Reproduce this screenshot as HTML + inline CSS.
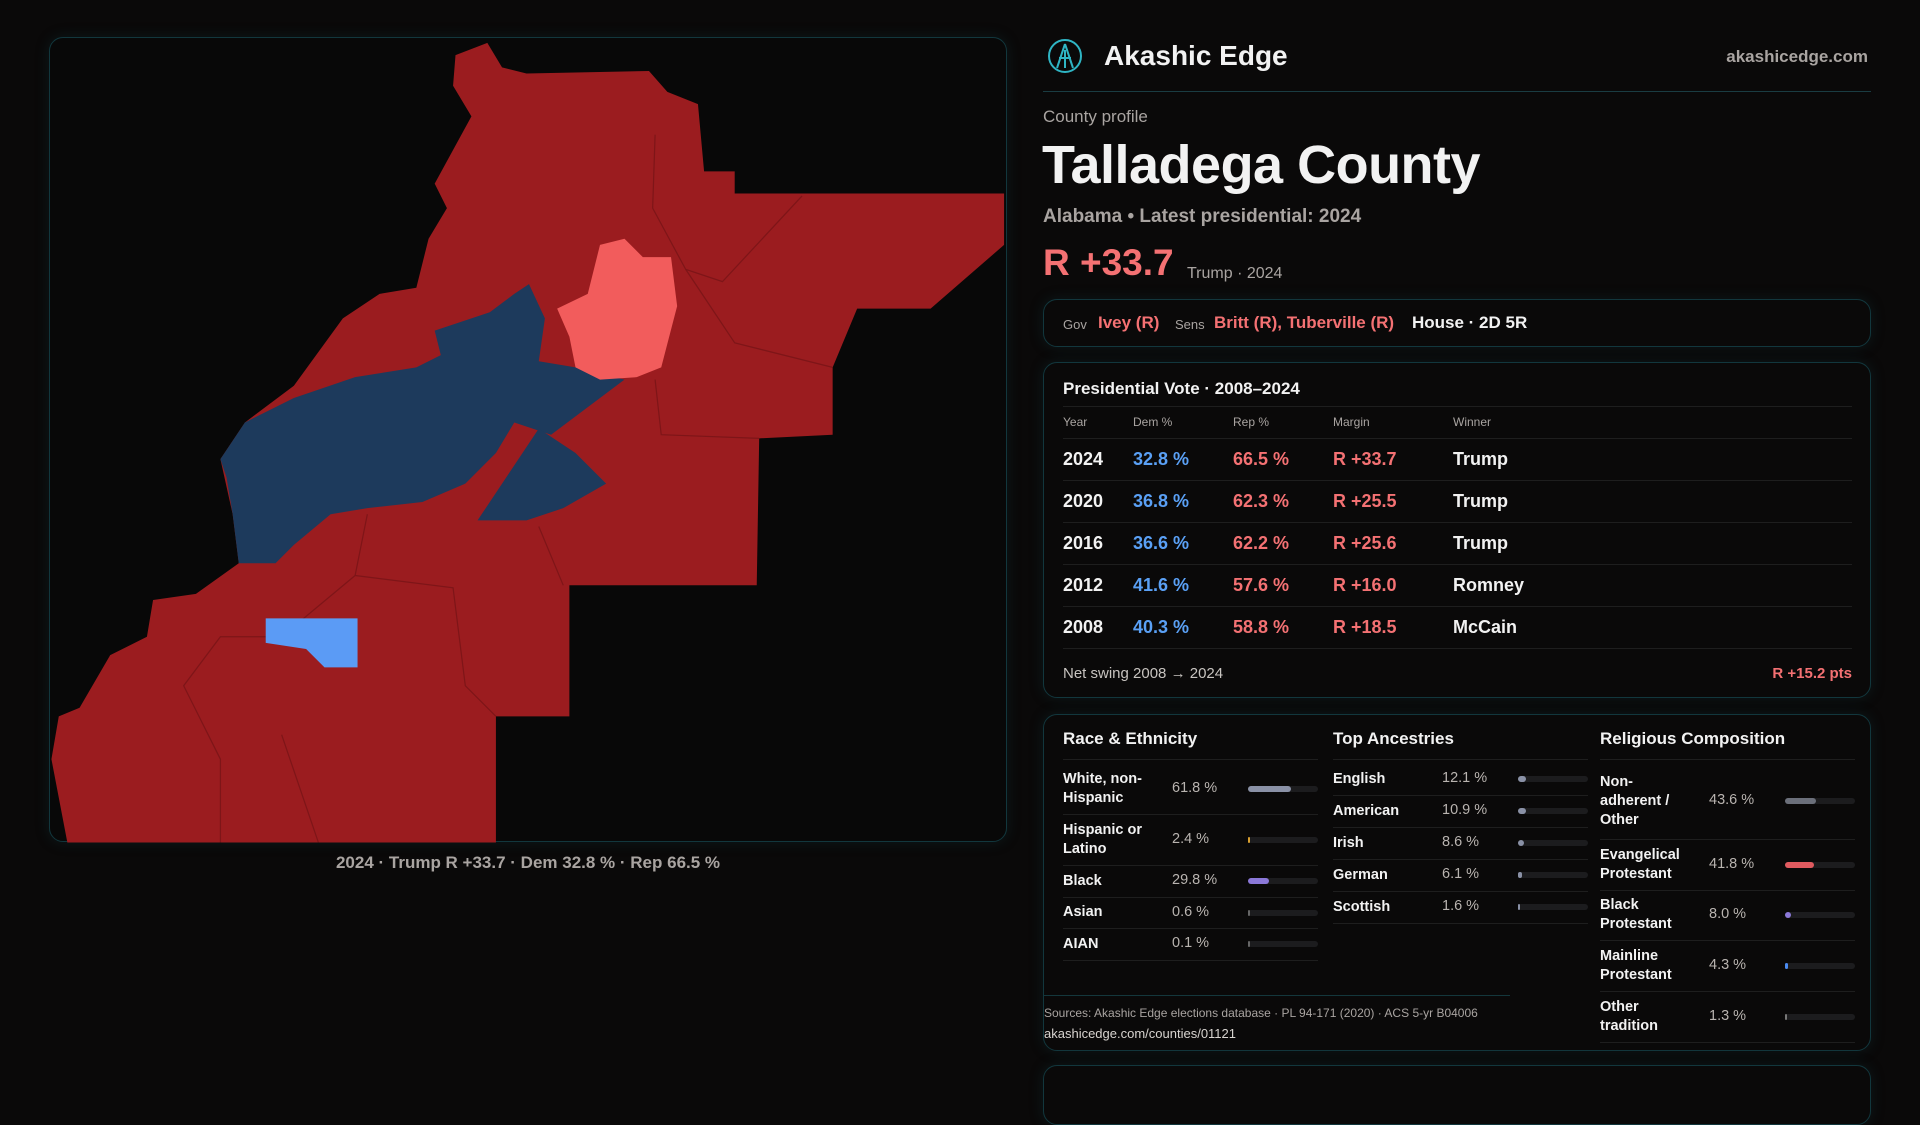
<!DOCTYPE html>
<html><head><meta charset="utf-8">
<style>
*{box-sizing:border-box;margin:0;padding:0}
body{width:1920px;height:1080px;background:#0a0909;font-family:"Liberation Sans",sans-serif;color:#f2f2f2;position:relative;overflow:hidden}
.abs{position:absolute}
.panel{position:absolute;border:1px solid #12373d;border-radius:14px;background:#0a0909;box-shadow:0 0 14px rgba(20,70,80,.25)}
.muted{color:#a9a4a1}
.red{color:#f47173}.blue{color:#5aa0f5}
.tr{position:absolute;left:0;right:0;border-bottom:1px solid #1e1e1e}
.bar{position:absolute;height:6px;border-radius:3px;background:#1c1c1e;width:70px}
.bar i{display:block;height:6px;border-radius:3px}
.lbl{position:absolute;font-size:14.5px;font-weight:bold;line-height:19px;color:#f2f2f2}
.val{position:absolute;font-size:14.5px;color:#b9b4b0}
</style></head><body>
<div class="panel" style="left:49px;top:37px;width:958px;height:805px;overflow:hidden;background:#080808"></div>
<svg class="abs" style="left:0;top:0" width="1920" height="1080" viewBox="0 0 1568 882">
<polygon fill="#9b1c1f" points="372,45 398,35 410,55 430,60 530,58 545,75 570,85 575,140 600,140 600,158 820,158 820,200 760,252 700,252 680,300 680,355 620,358 618,478 465,478 465,585 405,585 405,688 55,688 42,620 48,585 65,578 90,535 120,520 125,490 160,485 195,460 190,420 180,375 200,345 240,315 280,260 310,240 340,235 350,195 365,170 355,150 385,95 370,70"/>
<g stroke="#7e1518" stroke-width="1" fill="none">
<polyline points="535,110 533,170 560,220 590,230 655,160"/><polyline points="560,220 600,280 680,300"/><polyline points="535,310 540,355 620,358"/><polyline points="300,420 290,470 230,520 180,520 150,560 180,620 180,688"/><polyline points="290,470 370,480 380,560 405,585"/><polyline points="230,600 260,688"/><polyline points="440,430 460,478"/>
</g>
<polygon fill="#1d3a5c" points="180,375 200,345 240,325 290,308 340,300 360,290 355,270 400,255 420,240 432,232 445,260 440,295 470,300 510,310 470,340 450,355 420,345 405,370 380,395 345,410 300,415 270,420 240,445 225,460 195,460 190,420 185,390"/>
<polygon fill="#1d3a5c" points="390,425 440,350 470,370 495,395 460,415 430,425"/>
<polygon fill="#f25c5c" points="455,252 480,240 490,200 510,195 525,210 548,210 553,250 540,300 520,308 490,310 470,300 465,275"/>
<polygon fill="#5b9bf5" points="217,505 292,505 292,545 265,545 250,530 217,525"/>
</svg>
<div class="abs muted" style="left:49px;width:958px;top:853px;text-align:center;font-size:17px;font-weight:bold">2024 · Trump R +33.7 · Dem 32.8 % · Rep 66.5 %</div>

<svg class="abs" style="left:1047px;top:38px" width="36" height="36"><circle cx="18" cy="18" r="16" fill="none" stroke="#2fb5c4" stroke-width="2"/><path d="M18 6 L10 30 M18 6 L26 30 M12 20 L24 20 M18 12 L18 30" stroke="#2fb5c4" stroke-width="2" fill="none"/></svg>
<div class="abs" style="left:1104px;top:40px;font-size:28px;font-weight:bold">Akashic Edge</div>
<div class="abs muted" style="right:52px;top:47px;font-size:17px;font-weight:bold">akashicedge.com</div>
<div class="abs" style="left:1043px;top:91px;width:828px;border-top:1px solid #1a3c42"></div>
<div class="abs muted" style="left:1043px;top:107px;font-size:17px">County profile</div>
<div class="abs" style="left:1042px;top:134px;font-size:54px;font-weight:bold;letter-spacing:-0.5px">Talladega County</div>
<div class="abs muted" style="left:1043px;top:206px;font-size:19px;font-weight:bold">Alabama • Latest presidential: 2024</div>
<div class="abs red" style="left:1043px;top:242px;font-size:37px;font-weight:bold">R +33.7</div>
<div class="abs muted" style="left:1187px;top:265px;font-size:16px">Trump · 2024</div>

<div class="panel" style="left:1043px;top:299px;width:828px;height:48px">
<span class="abs muted" style="left:19px;top:17px;font-size:13px">Gov</span>
<span class="abs red" style="left:54px;top:13px;font-size:17px;font-weight:bold">Ivey (R)</span>
<span class="abs muted" style="left:131px;top:17px;font-size:13px">Sens</span>
<span class="abs red" style="left:170px;top:13px;font-size:17px;font-weight:bold">Britt (R), Tuberville (R)</span>
<span class="abs" style="left:368px;top:13px;font-size:17px;font-weight:bold">House · 2D 5R</span>
</div>

<div class="panel" id="pres" style="left:1043px;top:362px;width:828px;height:336px">
<div class="abs" style="left:19px;top:16px;font-size:17px;font-weight:bold">Presidential Vote · 2008–2024</div>
<div class="abs" style="left:19px;right:18px;top:43px;border-top:1px solid #1e1e1e"></div>
</div>

<div class="panel" id="demo" style="left:1043px;top:714px;width:828px;height:337px">
<div class="abs" style="left:19px;top:14px;font-size:17px;font-weight:bold">Race &amp; Ethnicity</div>
<div class="abs" style="left:289px;top:14px;font-size:17px;font-weight:bold">Top Ancestries</div>
<div class="abs" style="left:556px;top:14px;font-size:17px;font-weight:bold">Religious Composition</div>
<div class="abs" style="left:0;top:280px;width:466px;border-top:1px solid #14373c"></div>
<div class="abs muted" style="left:0;top:291px;font-size:12px">Sources: Akashic Edge elections database · PL 94-171 (2020) · ACS 5-yr B04006</div>
<div class="abs" style="left:0;top:311px;font-size:13px;color:#d8d4d0">akashicedge.com/counties/01121</div>
</div>
<div class="panel" style="left:1043px;top:1065px;width:828px;height:60px"></div>

<script>
const years=["2024","2020","2016","2012","2008"];
const demPct=[32.8,36.8,36.6,41.6,40.3];
const repPct=[66.5,62.3,62.2,57.6,58.8];
const winners=["Trump","Trump","Trump","Romney","McCain"];
const raceLabels=["White, non-<br>Hispanic","Hispanic or<br>Latino","Black","Asian","AIAN"];
const raceValues=[61.8,2.4,29.8,0.6,0.1];
const raceColors=["#8a91a6","#d9a030","#8b78d8","#666","#666"];
const ancLabels=["English","American","Irish","German","Scottish"];
const ancValues=[12.1,10.9,8.6,6.1,1.6];
const relLabels=["Non-<br>adherent /<br>Other","Evangelical<br>Protestant","Black<br>Protestant","Mainline<br>Protestant","Other<br>tradition"];
const relValues=[43.6,41.8,8.0,4.3,1.3];
const relColors=["#6b6f7a","#e05a5f","#8b78d8","#4a8af0","#777"];

const pres=document.getElementById('pres');
function add(parent,html,style,cls){const d=document.createElement('div');d.className=cls||'abs';d.innerHTML=html;d.style.cssText=style;parent.appendChild(d);return d;}
const cols=[19,89,189,289,409];
["Year","Dem %","Rep %","Margin","Winner"].forEach((h,i)=>{const d=add(pres,h,`left:${cols[i]}px;top:52px;font-size:12px;color:#a9a4a1`);

});
years.forEach((y,i)=>{
 const c=96+i*42;
 const m=repPct[i]-demPct[i];
 const row=add(pres,'',`left:19px;right:18px;top:${c-21}px;height:42px;border-top:1px solid #1e1e1e`);
 
 
 const t=c-10;
 add(pres,y,`left:${cols[0]}px;top:${t}px;font-size:18px;font-weight:bold`);
 add(pres,demPct[i].toFixed(1)+' %',`left:${cols[1]}px;top:${t}px;font-size:18px;font-weight:bold;color:#5aa0f5`);
 add(pres,repPct[i].toFixed(1)+' %',`left:${cols[2]}px;top:${t}px;font-size:18px;font-weight:bold;color:#f47173`);
 add(pres,'R +'+m.toFixed(1),`left:${cols[3]}px;top:${t}px;font-size:18px;font-weight:bold;color:#f47173`);
 add(pres,winners[i],`left:${cols[4]}px;top:${t}px;font-size:18px;font-weight:bold`);
});
add(pres,'',`left:19px;right:18px;top:${96+5*42-21}px;border-top:1px solid #1e1e1e`);
const swing=(repPct[0]-demPct[0])-(repPct[4]-demPct[4]);
add(pres,'Net swing 2008 → 2024',`left:19px;top:302px;font-size:15px;color:#c8c4c0`);
add(pres,'R +'+swing.toFixed(1)+' pts',`right:18px;top:302px;font-size:15px;color:#f47173;font-weight:bold`);

const demo=document.getElementById('demo');
function group(x,labels,values,colors,rowH,startY,name){
 add(demo,'',`left:${x}px;top:44px;width:255px;border-top:1px solid #1e1e1e`);
 let y=startY;
 labels.forEach((l,i)=>{
  const h=rowH[i];
  const lines=l.split('<br>').length;
  const lb=add(demo,l,`left:${x}px;top:${y+h/2-lines*19/2}px;width:110px`,'lbl');
  
  
  add(demo,values[i].toFixed(1)+' %',`left:${x+109}px;top:${y+h/2-9}px`,'val');
  const b=add(demo,`<i style="width:${Math.max(values[i],0.3)}%;min-width:2px;background:${colors[i]}"></i>`,`left:${x+185}px;top:${y+h/2-3}px`,'bar');
  
  
  y+=h;
  add(demo,'',`left:${x}px;top:${y}px;width:255px;border-top:1px solid #1e1e1e`);
 });
}
group(19,raceLabels,raceValues,raceColors,[51,51,32,31,32],48,'race');
group(289,ancLabels,ancValues,ancValues.map(()=>'#8a91a6'),[32,32,32,32,32],48,'ancestry');
group(556,relLabels,relValues,relColors,[76,51,50,51,51],48,'religion');
</script>
</body></html>
